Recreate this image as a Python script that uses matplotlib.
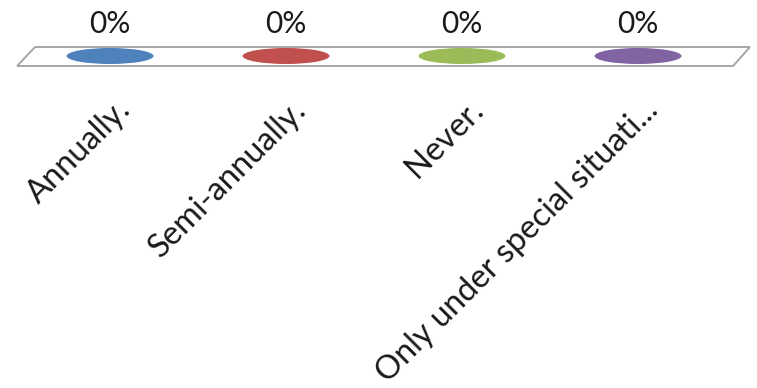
import matplotlib.pyplot as plt
from matplotlib.patches import Ellipse, Polygon

categories = ['Annually.', 'Semi-annually.', 'Never.', 'Only under special situati...']
values = [0.0, 0.0, 0.0, 0.0]
colors = ['#4F81BD', '#C0504D', '#9BBB59', '#8064A2']

plt.rcParams['font.family'] = ['Lato', 'DejaVu Sans']

fig = plt.figure(figsize=(7.57, 3.88), dpi=100)
ax = fig.add_axes([0, 0, 1, 1])
# one x unit per category slot, y in pixel-sized units with the floor at 0
ax.set_xlim(-0.625, 3.676)
ax.set_ylim(-332, 56)
ax.axis('off')

# flat 3-D floor
floor = Polygon([(-0.426, 9), (3.636, 9), (3.540, -10), (-0.528, -10)],
                closed=True, facecolor='white', edgecolor='#A6A6A6', linewidth=1.4)
ax.add_patch(floor)

scale = 100  # height of a 100% bar in y units
for i, (cat, v, c) in enumerate(zip(categories, values, colors)):
    top = v * scale
    ax.add_patch(Ellipse((i, top), width=0.494, height=16, facecolor=c, edgecolor='none'))
    ax.text(i, top + 32, f'{v:.0%}', ha='center', va='center', fontsize=21.5, color='#1a1a1a')
    ax.text(i + 0.09, -49, cat, rotation=45, rotation_mode='anchor',
            ha='right', va='center', fontsize=23.5, color='#1a1a1a')

fig.savefig('out.png', dpi=100)
